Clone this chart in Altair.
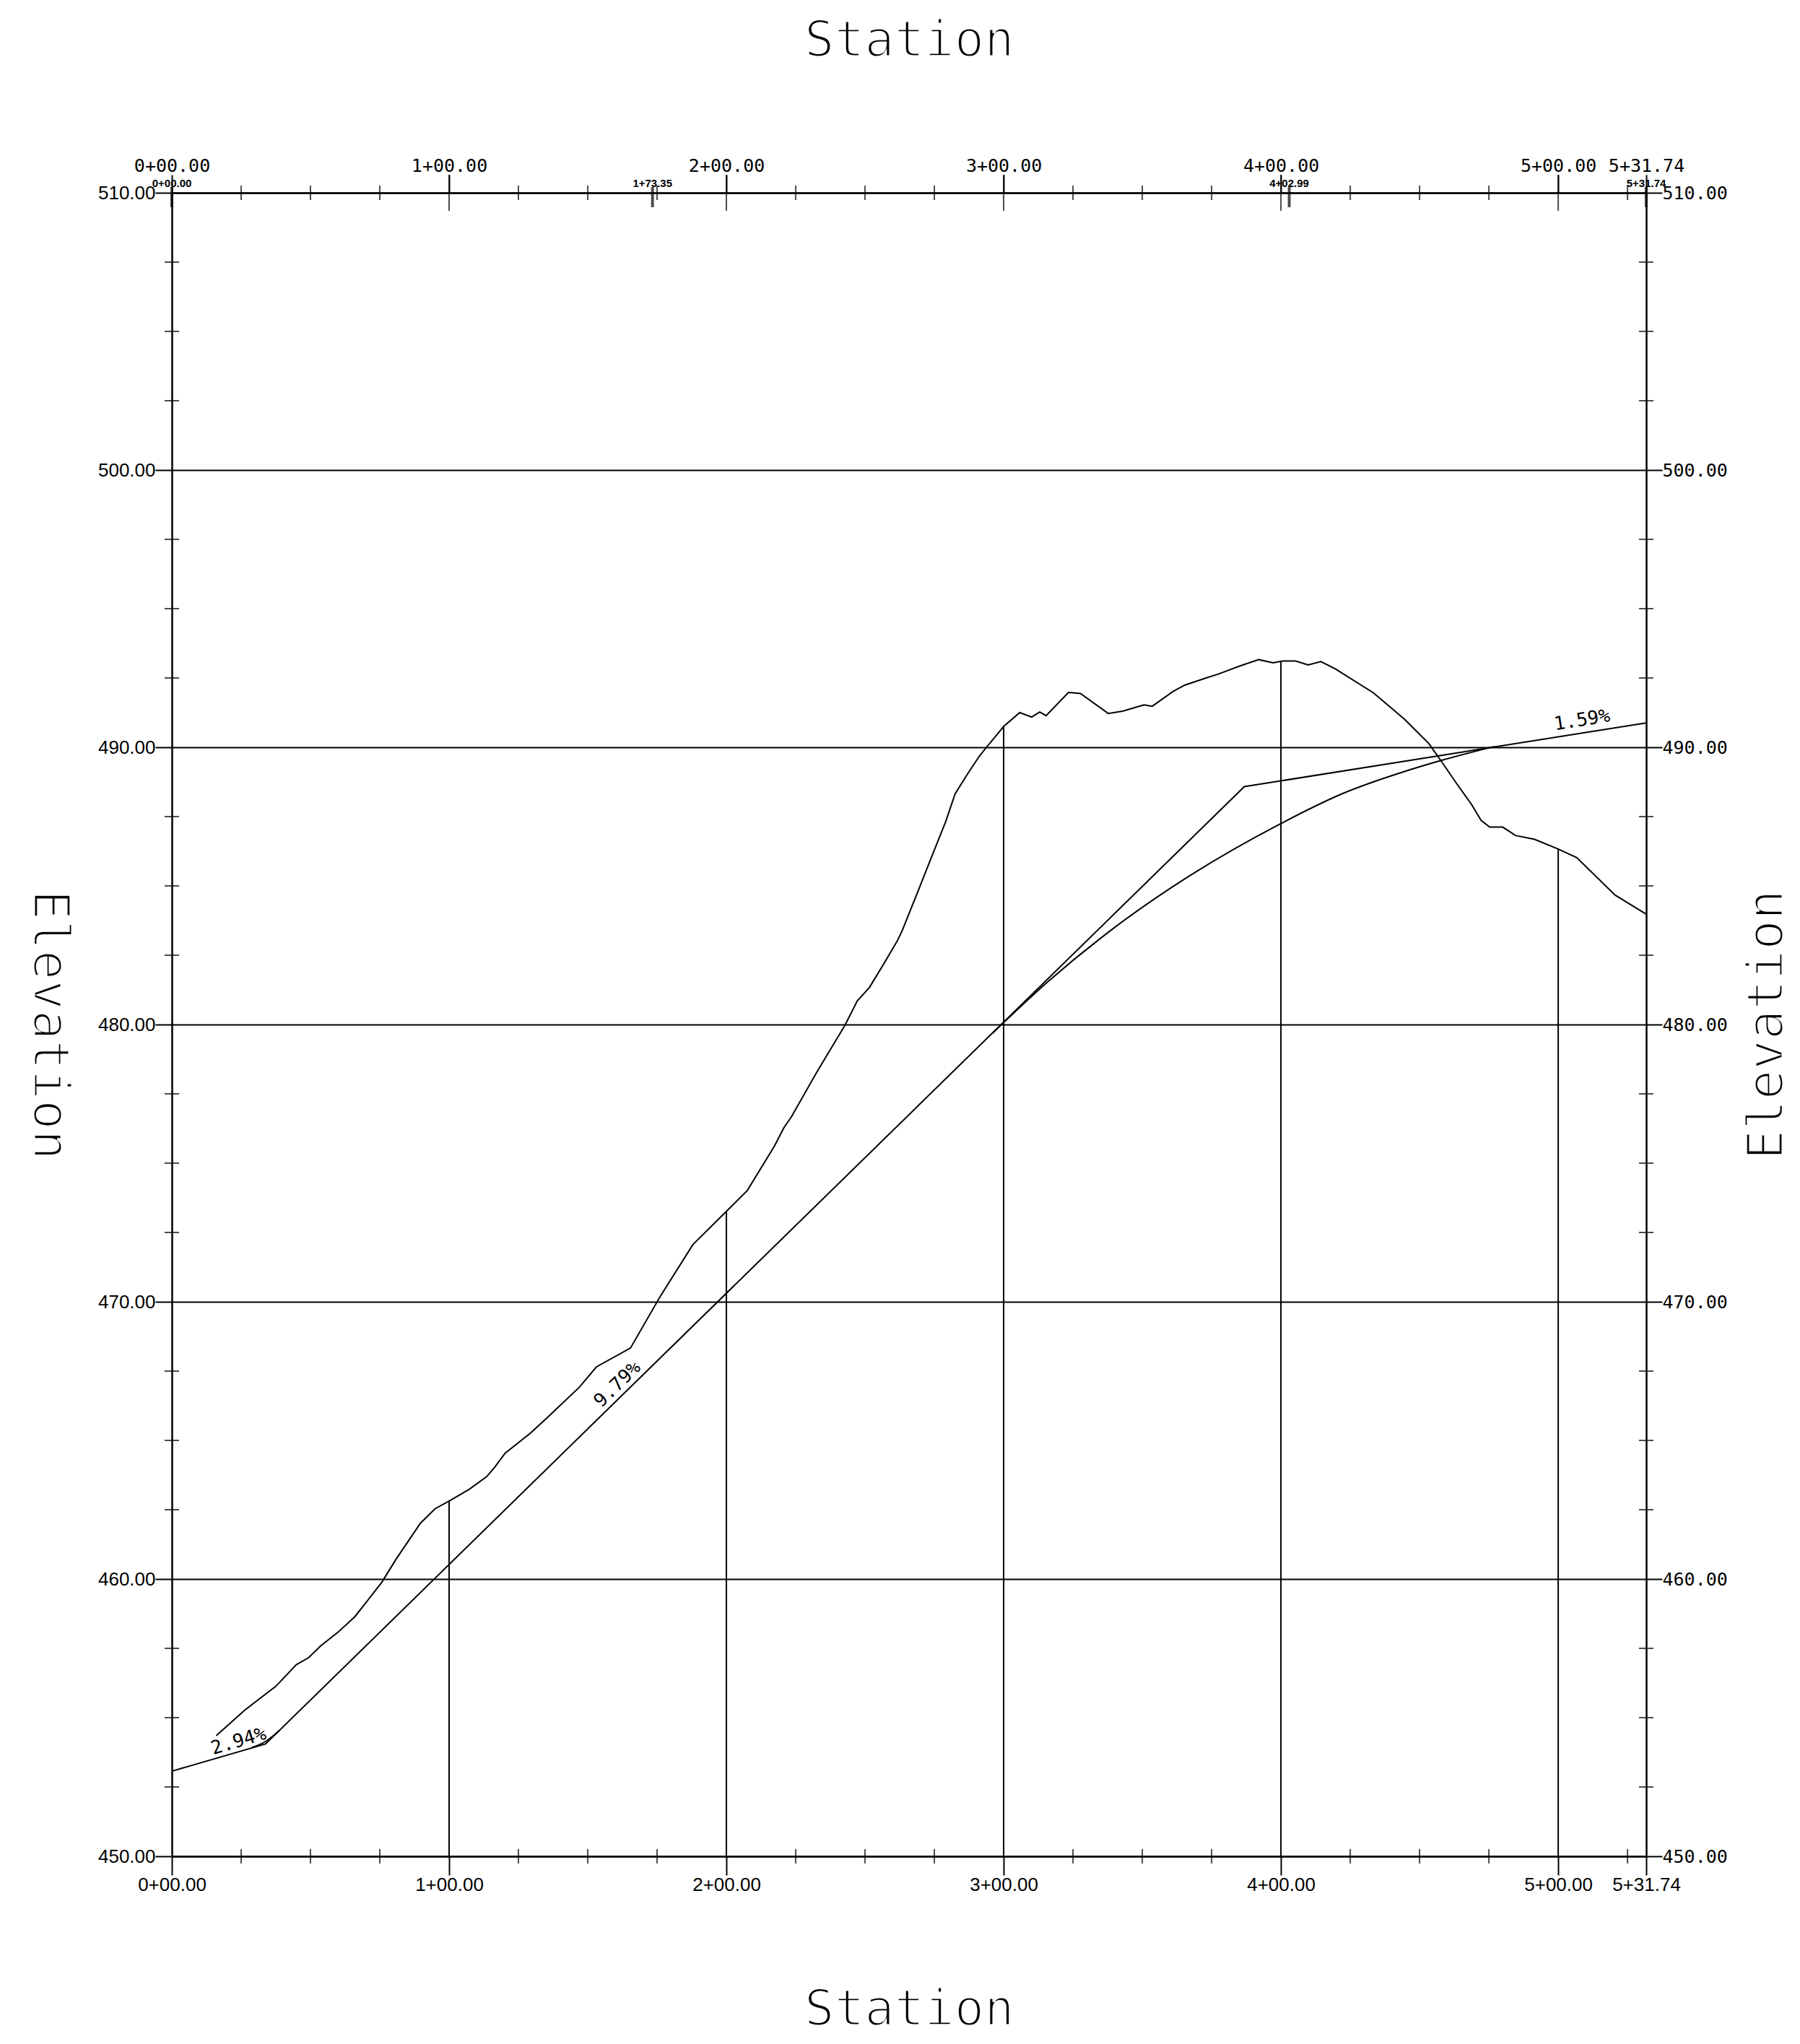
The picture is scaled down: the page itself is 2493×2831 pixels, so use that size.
import altair as alt
import pandas as pd

# ---------------- data ----------------
# Existing ground profile
ground_sta = [16.0, 26.4, 37.5, 44.9, 49.3, 53.7, 59.8, 66.0, 75.7, 80.9, 89.7, 95.0,
              100.3, 107.3, 113.5, 116.5, 120.2, 129.3, 137.3, 146.9, 153.1, 165.4,
              176.0, 187.9, 200.2, 207.6, 217.3, 220.8, 223.5, 232.3, 242.8, 247.2,
              251.6, 256.9, 261.7, 263.5, 269.6, 273.9, 279.1, 282.5, 286.8, 291.1,
              293.8, 300.1, 305.8, 310.1, 313.0, 315.3, 323.4, 327.7, 337.7, 342.9,
              350.6, 353.6, 361.0, 365.3, 373.0, 377.4, 385.1, 392.0, 397.2, 400.7,
              405.3, 409.8, 414.4, 419.6, 433.4, 444.6, 453.3, 457.6, 463.6, 468.8,
              472.2, 475.3, 480.0, 484.6, 491.5, 499.8, 506.7, 520.5, 531.74]
ground_elev = [454.35, 455.28, 456.13, 456.91, 457.16, 457.59, 458.07, 458.64, 459.88,
               460.72, 462.02, 462.54, 462.83, 463.24, 463.69, 464.04, 464.54, 465.26,
               466.00, 466.91, 467.65, 468.33, 470.17, 472.06, 473.28, 474.02, 475.61,
               476.29, 476.68, 478.23, 479.98, 480.85, 481.34, 482.21, 483.03, 483.41,
               484.93, 486.02, 487.32, 488.32, 489.01, 489.66, 490.00, 490.76, 491.25,
               491.09, 491.27, 491.14, 491.98, 491.94, 491.22, 491.30, 491.53, 491.48,
               492.01, 492.24, 492.50, 492.64, 492.93, 493.16, 493.05, 493.11, 493.11,
               492.97, 493.09, 492.83, 491.96, 491.01, 490.14, 489.53, 488.66, 487.93,
               487.36, 487.12, 487.12, 486.82, 486.68, 486.34, 486.02, 484.67, 483.98]

# Proposed grade tangents (PVIs)
grade_sta = [0.0, 33.8, 386.8, 531.74]
grade_elev = [453.07, 454.05, 488.58, 490.88]

# Vertical curves
crest_sta = [296.0, 316.0, 340.0, 367.0, 400.0, 422.0, 445.0, 458.0, 477.0]
crest_elev = [479.69, 481.55, 483.50, 485.36, 487.25, 488.32, 489.14, 489.53, 490.03]
sag_sta = [28.8, 33.8, 38.8]
sag_elev = [453.92, 454.14, 454.54]

# Grade labels
grade_lbl = ["2.94%", "9.79%", "1.59%"]
grade_lbl_sta = [24.1, 160.7, 508.6]
grade_lbl_elev = [454.15, 467.02, 490.98]

# Station grid lines up to ground
vline_sta = [100, 200, 300, 400, 500]
vline_top = [462.83, 473.28, 490.76, 493.11, 486.34]

# Axes
sta_major = [0, 100, 200, 300, 400, 500, 531.74]
sta_inner = [100, 200, 300, 400, 500]
sta_minor = [25, 50, 75, 125, 150, 175, 225, 250, 275, 325, 350, 375, 425, 450, 475, 525]
elev_major = [450, 460, 470, 480, 490, 500, 510]
elev_minor = [452.5, 455, 457.5, 462.5, 465, 467.5, 472.5, 475, 477.5, 482.5, 485, 487.5,
              492.5, 495, 497.5, 502.5, 505, 507.5]

# Alignment key stations (small labels on top)
key_sta = [0, 173.35, 402.99, 531.74]
key_lbl = ["0+00.00", "1+73.35", "4+02.99", "5+31.74"]

X_MIN, X_MAX = 0, 531.74
Y_MIN, Y_MAX = 450, 510

# ---------------- chart ----------------
xs = alt.Scale(domain=[X_MIN, X_MAX], nice=False, zero=False)
ys = alt.Scale(domain=[Y_MIN, Y_MAX], nice=False, zero=False)

sta_expr = ("floor(datum.value/100) + '+' + (datum.value % 100 < 9.995 ? '0' : '') + "
            "format(datum.value % 100, '.2f')")

common = dict(domainColor="black", domainWidth=2.5, tickColor="black", tickWidth=2,
              labelColor="black", titleColor="black", titleFont="DejaVu Sans Mono",
              titleFontSize=69, titleFontWeight="normal", titleAlign="center",
              titleBaseline="alphabetic", labelOverlap=False)

x_bottom = alt.Axis(orient="bottom", values=sta_major, labelExpr=sta_expr, tickSize=26,
                    labelFont="Liberation Sans", labelFontSize=26, labelPadding=0,
                    labelFlush=False, grid=False, title="Station",
                    titleX=1021, titleY=233, **common)
x_top = alt.Axis(orient="top", values=sta_major, labelExpr=sta_expr, tickSize=25,
                 labelFont="DejaVu Sans Mono", labelFontSize=25, labelPadding=0,
                 labelFlush=False, grid=False, title="Station",
                 titleX=1021, titleY=-190, **common)
y_left = alt.Axis(orient="left", values=elev_major, format=".2f", tickSize=23,
                  labelFont="Liberation Sans", labelFontSize=26, labelPadding=0,
                  labelFlush=False, grid=True, gridColor="black", gridWidth=2,
                  gridOpacity=1, title="Elevation", titleAngle=90,
                  titleX=-192, titleY=1152, **common)
y_right = alt.Axis(orient="right", values=elev_major, format=".2f", tickSize=22,
                   labelFont="DejaVu Sans Mono", labelFontSize=25, labelPadding=0,
                   labelFlush=False, grid=False, title="Elevation", titleAngle=270,
                   titleX=188, titleY=1152, **common)

ground_df = pd.DataFrame({"sta": ground_sta, "elev": ground_elev})
grade_df = pd.DataFrame({"sta": grade_sta, "elev": grade_elev})
crest_df = pd.DataFrame({"sta": crest_sta, "elev": crest_elev})
sag_df = pd.DataFrame({"sta": sag_sta, "elev": sag_elev})
vline_df = pd.DataFrame({"sta": vline_sta, "elev": [Y_MIN] * len(vline_sta), "top": vline_top})
minor_bot_df = pd.DataFrame({"sta": sta_minor, "elev": [Y_MIN] * len(sta_minor)})
minor_top_df = pd.DataFrame({"sta": sta_minor, "elev": [Y_MAX] * len(sta_minor)})
inner_top_df = pd.DataFrame({"sta": sta_inner, "elev": [Y_MAX] * len(sta_inner)})
minor_left_df = pd.DataFrame({"sta": [X_MIN] * len(elev_minor), "elev": elev_minor})
minor_right_df = pd.DataFrame({"sta": [X_MAX] * len(elev_minor), "elev": elev_minor})
key_df = pd.DataFrame({"sta": key_sta, "elev": [Y_MAX] * len(key_sta), "lbl": key_lbl})


def X(axis=None):
    if axis is None:
        return alt.X("sta:Q", scale=xs, axis=None)
    return alt.X("sta:Q", scale=xs, axis=axis, title="Station")


def Y(axis=None):
    if axis is None:
        return alt.Y("elev:Q", scale=ys, axis=None)
    return alt.Y("elev:Q", scale=ys, axis=axis, title="Elevation")


ground = alt.Chart(ground_df).mark_line(color="black", strokeWidth=2).encode(
    x=X(x_bottom), y=Y(y_left))

grade = alt.Chart(grade_df).mark_line(color="black", strokeWidth=2).encode(
    x=X(x_top), y=Y(y_right))

crest = alt.Chart(crest_df).mark_line(color="black", strokeWidth=2,
                                      interpolate="monotone").encode(x=X(), y=Y())
sag = alt.Chart(sag_df).mark_line(color="black", strokeWidth=2,
                                  interpolate="monotone").encode(x=X(), y=Y())

vlines = alt.Chart(vline_df).mark_rule(color="black", strokeWidth=2).encode(
    x=X(), y=Y(), y2="top:Q")


def ticks(df, orient, size):
    return alt.Chart(df).mark_tick(orient=orient, color="black", size=size,
                                   thickness=2).encode(x=X(), y=Y())


minor_bottom = ticks(minor_bot_df, "vertical", 20)
minor_top = ticks(minor_top_df, "vertical", 20)
inner_top = ticks(inner_top_df, "vertical", 50)
minor_left = ticks(minor_left_df, "horizontal", 20)
minor_right = ticks(minor_right_df, "horizontal", 20)

key_ticks = alt.Chart(key_df).mark_tick(orient="vertical", color="black", size=28,
                                        thickness=4, yOffset=6).encode(x=X(), y=Y())
key_text = alt.Chart(key_df).mark_text(font="Liberation Sans", fontSize=15,
                                       fontWeight="bold", color="black",
                                       baseline="alphabetic", align="center",
                                       dy=-8).encode(x=X(), y=Y(), text="lbl:N")

angles = [343.6, 315.6, 351.0]
labels = []
for lbl, s, e, a in zip(grade_lbl, grade_lbl_sta, grade_lbl_elev, angles):
    d = pd.DataFrame({"sta": [s], "elev": [e], "lbl": [lbl]})
    labels.append(alt.Chart(d).mark_text(font="DejaVu Sans Mono", fontSize=26,
                                         color="black", angle=a, align="center",
                                         baseline="middle").encode(
        x=X(), y=Y(), text="lbl:N"))

chart = alt.layer(
    ground, grade, crest, sag, vlines,
    minor_bottom, minor_top, inner_top, minor_left, minor_right,
    key_ticks, key_text, *labels
).resolve_axis(x="independent", y="independent").properties(
    width=2042, height=2304,
    padding={"left": 230, "top": 259, "right": 205, "bottom": 250},
    autosize=alt.AutoSizeParams(type="none"),
    background="white",
).configure(
    style={"guide-title": {"stroke": "white", "strokeWidth": 3}}
).configure_view(stroke=None)

chart.save("out.html", embed_options={"renderer": "svg", "actions": False})
